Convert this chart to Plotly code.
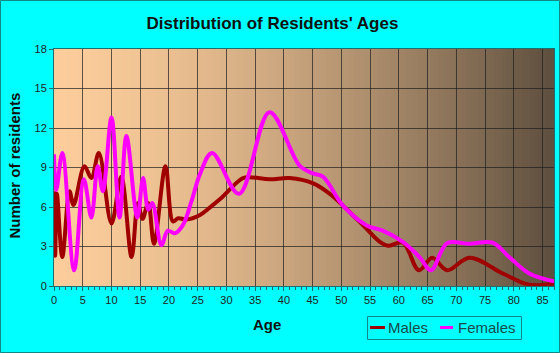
import plotly.graph_objects as go

# ---- data ----
male_ages = [0, 0.2, 0.5, 1.45, 2.7, 3.4, 5.3, 6.5, 7.8, 10.0, 11.7, 13.5, 14.6, 15.4, 16.4,
             17.4, 19.4, 20.7, 21.6, 23.0, 25.4, 27.1, 28.9, 32.9, 34.5, 37.5, 41.0, 45.1,
             48.0, 50.3, 53.8, 56.7, 58.1, 60.7, 63.5, 65.8, 68.4, 72.3, 78.1, 82.7, 87]
male_vals = [7.2, 2.3, 7.0, 2.2, 7.2, 6.15, 9.1, 8.2, 10.1, 4.75, 8.3, 2.2, 6.3, 5.1, 6.3,
             3.2, 9.1, 4.9, 5.15, 5.05, 5.4, 5.95, 6.6, 8.2, 8.25, 8.1, 8.2, 7.8,
             7.0, 6.1, 4.6, 3.35, 3.05, 3.3, 1.2, 2.15, 1.2, 2.15, 0.95, 0.1, 0.2]

female_ages = [0, 0.4, 1.45, 3.5, 5.2, 6.5, 7.6, 8.5, 10.0, 11.4, 12.6, 14.5, 15.5, 16.4,
               17.1, 18.7, 19.8, 21.0, 22.4, 23.9, 25.4, 27.5, 32.2, 37.5, 42.8, 45.1, 46.8,
               50.3, 54.4, 57.2, 60.7, 63.6, 65.6, 68.4, 72.3, 76.3, 79.2, 82.7, 87]
female_vals = [10.0, 7.3, 10.1, 1.2, 8.1, 5.2, 9.1, 7.2, 12.8, 5.2, 11.4, 5.2, 8.2, 5.8,
               6.3, 3.1, 4.2, 4.0, 4.6, 6.4, 8.5, 10.1, 7.0, 13.2, 9.1, 8.55, 8.3,
               6.1, 4.6, 4.2, 3.35, 2.2, 1.2, 3.25, 3.2, 3.3, 2.2, 0.95, 0.35]

series_names = ['Males', 'Females']
series_colors = ['#A00000', '#FF00FF']

x_ticks = list(range(0, 90, 5))
y_ticks = list(range(0, 19, 3))

# ---- layout constants (px) ----
W, H = 560, 353
L, R, T, B = 54, 6, 49, 67
PW, PH = W - L - R, H - T - B


def px(xp):
    return (xp - L) / PW


def py(yp):
    return (T + PH - yp) / PH


fig = go.Figure()
for name, col, xs, ys in zip(series_names, series_colors,
                             [male_ages, female_ages], [male_vals, female_vals]):
    fig.add_trace(go.Scatter(x=xs, y=ys, mode='lines', name=name, showlegend=False,
                             line=dict(color=col, width=4, shape='spline', smoothing=1.0)))

# gradient plot background
shapes = []
N = 125
c0 = (252, 205, 155)
c1 = (93, 78, 62)
for i in range(N):
    t = (i + 0.5) / N
    f = t ** 1.5
    col = tuple(int(round(a + (b - a) * f)) for a, b in zip(c0, c1))
    shapes.append(dict(type='rect', xref='x domain', yref='y domain',
                       x0=i / N, x1=(i + 1) / N + 0.002, y0=0, y1=1, layer='below',
                       line=dict(width=0), fillcolor='rgb(%d,%d,%d)' % col))
# outer border
shapes.append(dict(type='rect', xref='paper', yref='paper',
                   x0=px(0.5), x1=px(W - 0.5), y0=py(H - 0.5), y1=py(0.5),
                   line=dict(color='#118888', width=1), fillcolor='rgba(0,0,0,0)'))

font_fam = 'Liberation Sans, Arial, sans-serif'
legend_font = dict(size=15, color='#1a4a4a', family=font_fam)

# legend (drawn as chart furniture)
shapes.append(dict(type='rect', xref='paper', yref='paper',
                   x0=px(367.5), x1=px(521.5), y0=py(339.5), y1=py(316.5),
                   line=dict(color='#118888', width=1), fillcolor='rgba(0,0,0,0)'))
leg_items = [(370, 385, 386), (440, 453, 456)]
annotations = []
for (lx0, lx1, tx), name, col in zip(leg_items, series_names, series_colors):
    shapes.append(dict(type='line', xref='paper', yref='paper', x0=px(lx0), x1=px(lx1),
                       y0=py(327.5), y1=py(327.5), line=dict(color=col, width=3)))
    annotations.append(dict(text=name, xref='paper', yref='paper', x=px(tx), y=py(327.5),
                            xanchor='left', yanchor='middle', showarrow=False,
                            font=legend_font))

annotations += [
    dict(text='<b>Age</b>', xref='paper', yref='paper', x=px(267), y=py(324),
         xanchor='center', yanchor='middle', showarrow=False,
         font=dict(size=15, color='#111111', family=font_fam)),
    dict(text='<b>Number of residents</b>', xref='paper', yref='paper',
         x=px(14), y=py(165.5), xanchor='center', yanchor='middle',
         textangle=-90, showarrow=False,
         font=dict(size=15, color='#111111', family=font_fam)),
]

axis_col = '#1d6e6e'
grid_col = 'rgba(30,30,30,0.7)'

fig.update_layout(
    width=W, height=H,
    margin=dict(l=L, r=R, t=T, b=B),
    paper_bgcolor='#00FFFF',
    plot_bgcolor='#F5C89A',
    shapes=shapes,
    annotations=annotations,
    showlegend=False,
    font=dict(family=font_fam, color='#222222'),
    title=dict(text="<b>Distribution of Residents' Ages</b>", x=272.5 / W, xanchor='center',
               y=1 - 23.5 / H, yanchor='middle', xref='container', yref='container',
               font=dict(size=17, color='#111111', family=font_fam)),
)

fig.update_xaxes(range=[0, 87], tickvals=x_ticks, ticks='outside', ticklen=4,
                 tickcolor=axis_col, showline=True, linecolor=axis_col, linewidth=1,
                 mirror=True, showgrid=True, gridcolor=grid_col, gridwidth=1,
                 zeroline=False, tickfont=dict(size=11, color='#222222'),
                 minor=dict(dtick=1, ticks='outside', ticklen=3, tickcolor=axis_col,
                            showgrid=False))
fig.update_yaxes(range=[0, 18], tickvals=y_ticks, ticks='outside', ticklen=4,
                 tickcolor=axis_col, showline=True, linecolor=axis_col, linewidth=1,
                 mirror=True, showgrid=True, gridcolor=grid_col, gridwidth=1,
                 zeroline=False, tickfont=dict(size=11, color='#222222'))

fig.write_html('out.html')
